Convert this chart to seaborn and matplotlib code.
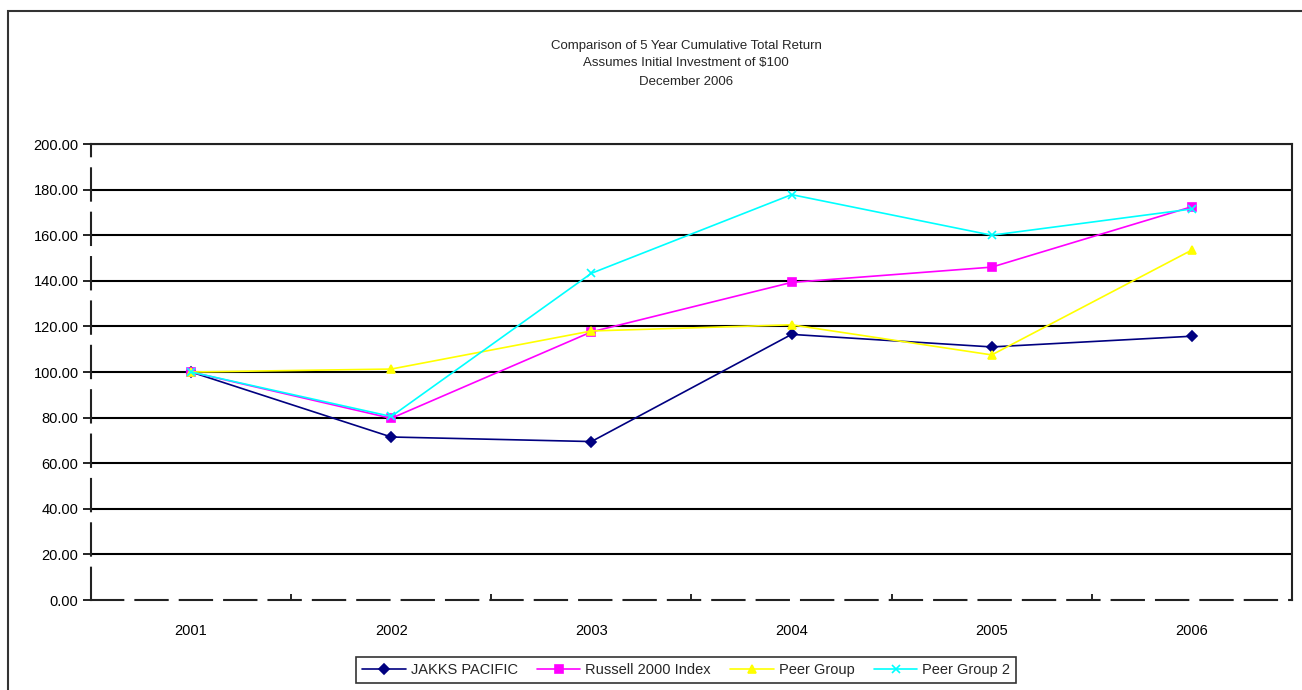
import numpy as np
import pandas as pd
import matplotlib
matplotlib.use('Agg')
import matplotlib.pyplot as plt
import seaborn as sns
from matplotlib.patches import Rectangle
from matplotlib.ticker import FormatStrFormatter, FixedLocator

years = ['2001', '2002', '2003', '2004', '2005', '2006']
jakks = [100.00, 71.5, 69.5, 116.5, 111.0, 115.7]
russell = [100.00, 79.7, 117.6, 139.3, 146.0, 172.5]
peer = [100.00, 101.3, 118.0, 120.7, 107.5, 153.5]
peer2 = [100.00, 80.5, 143.3, 177.8, 160.0, 171.5]

series_names = ['JAKKS PACIFIC', 'Russell 2000 Index', 'Peer Group', 'Peer Group 2']
colors = ['#000080', '#FF00FF', '#FFFF00', '#00FFFF']
markers = ['D', 's', '^', 'x']

sns.set_style('white')
plt.rcParams['font.family'] = ['Liberation Sans', 'DejaVu Sans']

fig = plt.figure(figsize=(13.02, 6.9), dpi=100)
ax = fig.add_axes([0.0699, 0.1304, 0.9224, 0.6609])

# one lineplot per series: seaborn won't mix filled and line-art markers in one call
pos = np.arange(len(years))
for name, vals, c, m in zip(series_names, [jakks, russell, peer, peer2], colors, markers):
    sns.lineplot(x=pos, y=vals, color=c, marker=m, markersize=5.5,
                 markeredgecolor=c, markeredgewidth=1.2, linewidth=1.2,
                 label=name, ax=ax)

ax.set_xlim(-0.5, 5.5)
ax.set_ylim(0, 200)
ax.set_xticks(pos)
ax.set_xticklabels(years)
ax.xaxis.set_minor_locator(FixedLocator([0.5, 1.5, 2.5, 3.5, 4.5]))
ax.set_yticks(np.arange(0, 201, 20))
ax.yaxis.set_major_formatter(FormatStrFormatter('%.2f'))
ax.tick_params(axis='x', which='major', length=0, pad=17, labelsize=10.5, colors='black')
ax.tick_params(axis='x', which='minor', length=4, direction='in', width=1.2, color='black', bottom=True)
ax.tick_params(axis='y', length=6, width=1.2, direction='out', left=True, pad=3,
               labelsize=10.5, colors='black')
ax.set_xlabel('')
ax.set_ylabel('')

ax.yaxis.grid(True, color='black', linewidth=1.5)
ax.get_ygridlines()[0].set_visible(False)
ax.set_axisbelow(True)

for side in ['top', 'right']:
    ax.spines[side].set_visible(True)
    ax.spines[side].set_color('#222222')
    ax.spines[side].set_linewidth(1.5)
for side in ['bottom', 'left']:
    ax.spines[side].set_color('#222222')
    ax.spines[side].set_linewidth(1.5)
    ax.spines[side].set_linestyle((0, (15.5, 5.8)))

fig.text(0.527, 0.934, 'Comparison of 5 Year Cumulative Total Return', ha='center', va='center', fontsize=9.5)
fig.text(0.527, 0.908, 'Assumes Initial Investment of $100', ha='center', va='center', fontsize=9.5)
fig.text(0.527, 0.881, 'December 2006', ha='center', va='center', fontsize=9.5)

handles, labels = ax.get_legend_handles_labels()
ax.get_legend().remove()
leg = fig.legend(handles, labels, loc='center', bbox_to_anchor=(0.527, 0.029), ncol=4,
                 fontsize=10.5, frameon=True, fancybox=False, handlelength=3.0,
                 columnspacing=1.3, handletextpad=0.35, borderpad=0.4)
leg.get_frame().set_edgecolor('black')
leg.get_frame().set_linewidth(1.2)

# outer chart border, right and bottom edges fall outside the image like the reference
fig.patches.append(Rectangle((8 / 1302, -0.05), 1.1, 0.05 + 1 - 11 / 690,
                             transform=fig.transFigure, fill=False,
                             edgecolor='#333333', linewidth=1.5))

fig.savefig('out.png', dpi=100)
